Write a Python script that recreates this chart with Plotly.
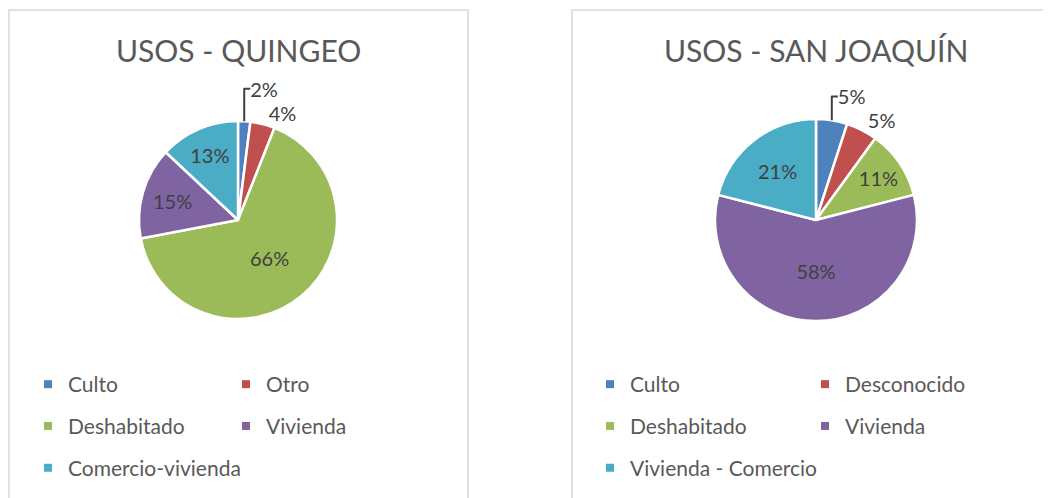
import plotly.graph_objects as go

# ---------------- data ----------------
quingeo_labels = ["Culto", "Otro", "Deshabitado", "Vivienda", "Comercio-vivienda"]
quingeo_values = [2, 4, 66, 15, 13]

sanjoaquin_labels = ["Culto", "Desconocido", "Deshabitado", "Vivienda", "Vivienda - Comercio"]
sanjoaquin_values = [5, 5, 11, 58, 21]

titles = ["USOS - QUINGEO", "USOS - SAN JOAQUÍN"]

# ---------------- style ----------------
W, H = 1051, 498
OFF = 8  # page body margin offset
COLORS = ["#4F81BD", "#C0504D", "#9BBB59", "#8064A2", "#4BACC6"]
FONT = "Lato"
TXT = "#404040"
GRAY = "#595959"

def px_x(v):
    return (v - OFF) / W

def px_y(v):
    return 1 - (v - OFF) / H

fig = go.Figure()

def add_pie(labels, values, cx, cy, r, textpos):
    fig.add_trace(go.Pie(
        labels=labels, values=values, sort=False, direction="clockwise",
        marker=dict(colors=COLORS, line=dict(color="white", width=2.5)),
        domain=dict(x=[px_x(cx - r), px_x(cx + r)], y=[px_y(cy + r), px_y(cy - r)]),
        texttemplate="%{percent:.0%}", textposition=textpos,
        insidetextorientation="horizontal",
        textfont=dict(family=FONT, size=20, color=TXT),
        showlegend=False, hoverinfo="label+percent",
    ))

add_pie(quingeo_labels, quingeo_values, 238, 220, 99,
        ["outside", "outside", "inside", "inside", "inside"])
add_pie(sanjoaquin_labels, sanjoaquin_values, 816, 220, 101,
        ["outside", "outside", "inside", "inside", "inside"])

# legends: two columns per panel built from legend-only traces
def add_legend_items(labels, idxs, legend_name):
    for i in idxs:
        fig.add_trace(go.Scatter(
            x=[None], y=[None], mode="markers", name=labels[i],
            marker=dict(symbol="square", size=8, color=COLORS[i]),
            legend=legend_name, legendgroup=f"{legend_name}_{i}",
            showlegend=True, hoverinfo="skip",
        ))

add_legend_items(quingeo_labels, [0, 2, 4], "legend")
add_legend_items(quingeo_labels, [1, 3], "legend2")
add_legend_items(sanjoaquin_labels, [0, 2, 4], "legend3")
add_legend_items(sanjoaquin_labels, [1, 3], "legend4")

def leg(xpx, ypx):
    return dict(x=px_x(xpx), y=px_y(ypx), xanchor="left", yanchor="top",
                orientation="v", traceorder="grouped", tracegroupgap=11.5,
                font=dict(family=FONT, size=21, color=GRAY),
                bgcolor="rgba(0,0,0,0)", borderwidth=0, itemclick=False,
                itemdoubleclick=False)

fig.update_layout(
    width=W, height=H,
    margin=dict(l=0, r=0, t=0, b=0),
    paper_bgcolor="white", plot_bgcolor="white",
    xaxis=dict(visible=False), yaxis=dict(visible=False),
    legend=leg(28, 364), legend2=leg(226, 364),
    legend3=leg(590, 364), legend4=leg(805, 364),
    shapes=[
        dict(type="rect", xref="paper", yref="paper",
             x0=px_x(9), x1=px_x(468), y0=px_y(530), y1=px_y(10),
             line=dict(color="#D9D9D9", width=1.5), fillcolor="rgba(0,0,0,0)"),
        dict(type="rect", xref="paper", yref="paper",
             x0=px_x(572), x1=px_x(1090), y0=px_y(530), y1=px_y(10),
             line=dict(color="#D9D9D9", width=1.5), fillcolor="rgba(0,0,0,0)"),
    ],
    annotations=[
        dict(text=titles[0], x=px_x(238), y=px_y(50), xref="paper", yref="paper",
             showarrow=False, xanchor="center", yanchor="middle",
             font=dict(family=FONT, size=30, color=GRAY)),
        dict(text=titles[1], x=px_x(816), y=px_y(50), xref="paper", yref="paper",
             showarrow=False, xanchor="center", yanchor="middle",
             font=dict(family=FONT, size=30, color=GRAY)),
    ],
)

fig.write_html("out.html")
